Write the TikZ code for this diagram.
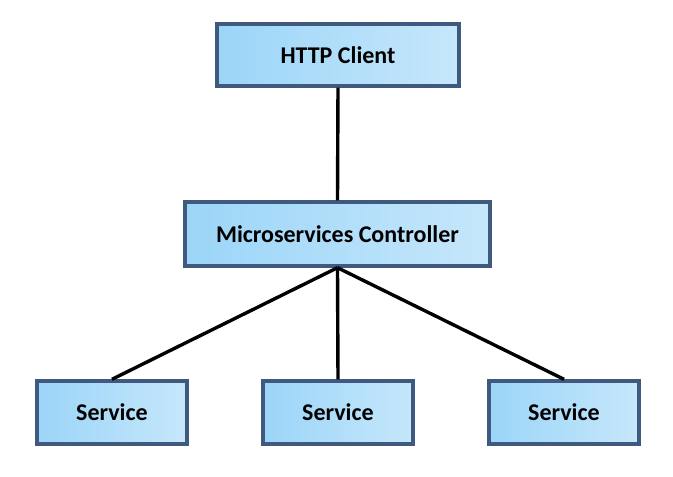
\documentclass[tikz,border=0pt]{standalone}
\usepackage{fontspec}
\setmainfont{Carlito}
\usepackage{xcolor}
\usepackage{tikz}

\definecolor{boxleft}{HTML}{9BD5F8}
\definecolor{boxright}{HTML}{C6E7FB}
\definecolor{boxedge}{HTML}{3F5A7E}

\begin{document}
\begin{tikzpicture}[x=1pt, y=-1pt,
    box/.style={draw=boxedge, line width=3.4pt, left color=boxleft, right color=boxright,
        font=\bfseries\fontsize{24}{28}\selectfont, inner sep=0pt},
    link/.style={line width=3.4pt, black}]
    % page frame
    \useasboundingbox (0,0) rectangle (673,477);

    % client and controller
    \node[box, minimum width=242pt, minimum height=62pt] (client) at (338,55) {HTTP Client};
    \node[box, minimum width=305pt, minimum height=64pt] (ctrl) at (337.5,234) {Microservices Controller};

    % services
    \node[box, minimum width=150pt, minimum height=63pt] (svcA) at (112,412.5) {Service};
    \node[box, minimum width=150pt, minimum height=63pt] (svcB) at (338,412.5) {Service};
    \node[box, minimum width=150pt, minimum height=63pt] (svcC) at (564,412.5) {Service};

    % links
    \draw[link] (client.south) -- (ctrl.north);
    \foreach \s in {svcA,svcB,svcC}
        \draw[link] (ctrl.south) -- (\s.north);
\end{tikzpicture}
\end{document}
